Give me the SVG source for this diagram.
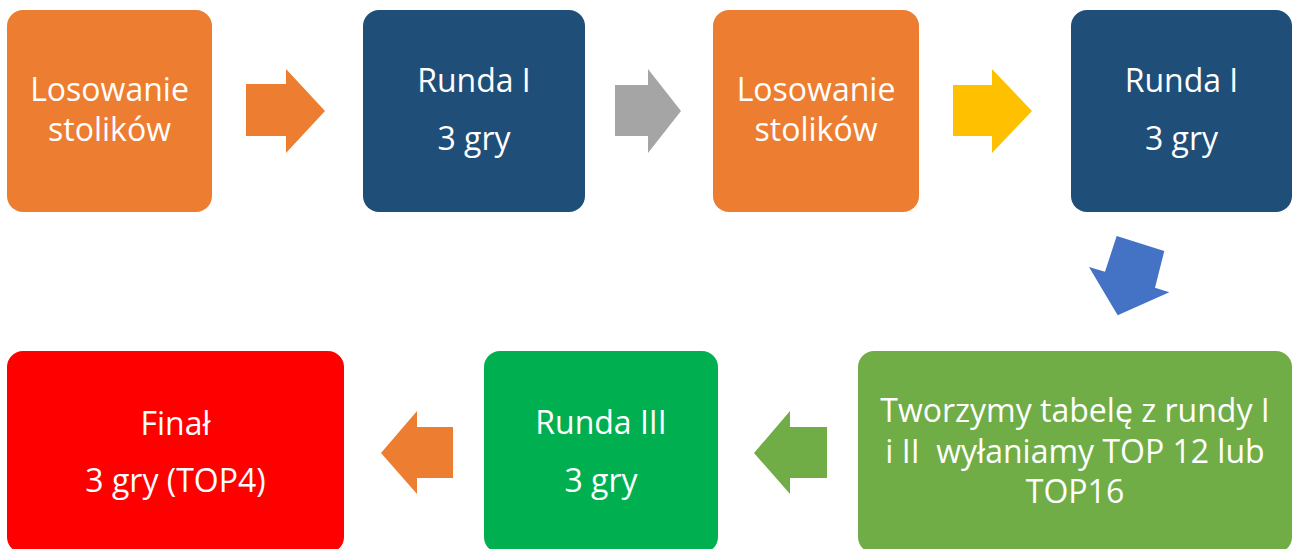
<svg xmlns="http://www.w3.org/2000/svg" width="1296" height="549" viewBox="0 0 1296 549">
<style>
.t{font-family:"Open Sans","Noto Sans","Liberation Sans",sans-serif;font-size:32px;fill:#ffffff;text-anchor:middle}
</style>
<rect width="1296" height="549" fill="#ffffff"/>
<g id="connectors">
<polygon id="a1" points="246,84 286,84 286,69 325,111 286,153 286,136 246,136" fill="#ED7D31"/>
<polygon id="a2" points="615,85 648,85 648,69 681,111 648,153 648,136 615,136" fill="#A5A5A5"/>
<polygon id="a3" points="953,85 992,85 992,69 1032,111 992,153 992,136 953,136" fill="#FFC000"/>
<polygon id="a4" points="1116.7,236 1164.3,251 1155,287.7 1169.3,292.3 1117.7,315.3 1089,267 1105,271.7" fill="#4472C4"/>
<polygon id="a5" points="827,427 790,427 790,411 754,453 790,494 790,478 827,478" fill="#70AD47"/>
<polygon id="a6" points="453,427 417,427 417,411 381,453 417,494 417,478 453,478" fill="#ED7D31"/>
</g>
<g id="n1">
<rect x="7" y="10" width="205" height="202" rx="16" fill="#ED7D31"/>
<text class="t" x="109.5" y="101">Losowanie</text>
<text class="t" x="109.5" y="141">stolików</text>
</g>
<g id="n2">
<rect x="363" y="10" width="222" height="202" rx="16" fill="#1F4E79"/>
<text class="t" x="474" y="92">Runda I</text>
<text class="t" x="474" y="150">3 gry</text>
</g>
<g id="n3">
<rect x="713" y="10" width="206" height="202" rx="16" fill="#ED7D31"/>
<text class="t" x="816" y="101">Losowanie</text>
<text class="t" x="816" y="141">stolików</text>
</g>
<g id="n4">
<rect x="1071" y="10" width="221" height="202" rx="16" fill="#1F4E79"/>
<text class="t" x="1181.5" y="92">Runda I</text>
<text class="t" x="1181.5" y="150">3 gry</text>
</g>
<g id="n5">
<rect x="858" y="351" width="434" height="202" rx="16" fill="#70AD47"/>
<text class="t" x="1075" y="422">Tworzymy tabelę z rundy I</text>
<text class="t" x="1075" y="463" xml:space="preserve">i II  wyłaniamy TOP 12 lub</text>
<text class="t" x="1075" y="503">TOP16</text>
</g>
<g id="n6">
<rect x="484" y="351" width="234" height="202" rx="16" fill="#00B050"/>
<text class="t" x="601" y="434">Runda III</text>
<text class="t" x="601" y="492">3 gry</text>
</g>
<g id="n7">
<rect x="7" y="351" width="337" height="202" rx="16" fill="#FF0000"/>
<text class="t" x="175.5" y="435">Finał</text>
<text class="t" x="175.5" y="492">3 gry (TOP4)</text>
</g>
</svg>
